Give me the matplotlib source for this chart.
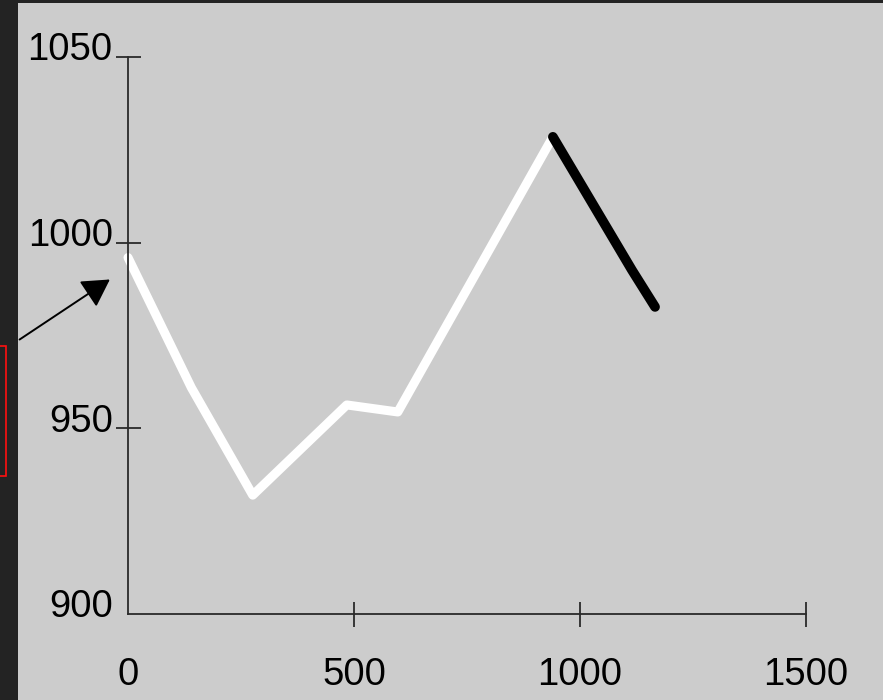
import matplotlib.pyplot as plt
from matplotlib.patches import Rectangle
from matplotlib.transforms import ScaledTranslation

plt.rcParams['font.family'] = ['Liberation Sans', 'DejaVu Sans']

# white segment
white_x = [0, 140, 276, 484, 597, 940]
white_y = [996, 961, 932, 956.3, 954.4, 1028.5]
# black segment
black_x = [940, 1115, 1166]
black_y = [1028.5, 992.6, 982.7]

xticks = [0, 500, 1000, 1500]
yticks = [900, 950, 1000, 1050]

fig = plt.figure(figsize=(8.83, 7), dpi=100)
fig.patch.set_facecolor('#232323')
fig.patches.append(Rectangle((18 / 883, 0), 1, 697 / 700, transform=fig.transFigure,
                             facecolor='#cccccc', edgecolor='none', zorder=0))
fig.patches.append(Rectangle((-2 / 883, 224 / 700), 8 / 883, 130 / 700, transform=fig.transFigure,
                             facecolor='none', edgecolor='#ff1010', lw=1.2, zorder=3))

ax = fig.add_axes([128 / 883, 86 / 700, 678 / 883, 557 / 700])
ax.set_zorder(2)
ax.set_facecolor('none')
ax.plot(white_x, white_y, color='white', lw=6.5, solid_capstyle='round',
        solid_joinstyle='round', clip_on=False)
ax.plot(black_x, black_y, color='black', lw=7, solid_capstyle='round',
        solid_joinstyle='round', clip_on=False)

ax.annotate('', xy=(-35, 990.5), xytext=(-245, 973.5), annotation_clip=False,
            arrowprops=dict(arrowstyle='-|>,head_length=0.42,head_width=0.24',
                            mutation_scale=40, color='black', lw=1.4))

ax.set_xlim(0, 1500)
ax.set_ylim(900, 1050)
ax.set_xticks(xticks)
ax.set_yticks(yticks)
for s in ['top', 'right']:
    ax.spines[s].set_visible(False)
for s in ['left', 'bottom']:
    ax.spines[s].set_color('#2a2a2a')
    ax.spines[s].set_linewidth(1.3)

ax.tick_params(axis='both', direction='inout', length=18, width=1.3, color='#2a2a2a',
               labelsize=27.5, labelcolor='black')
ax.tick_params(axis='x', pad=22)
ax.tick_params(axis='y', pad=2)

ax.xaxis.get_major_ticks()[0].tick1line.set_visible(False)
ax.yaxis.get_major_ticks()[0].tick1line.set_visible(False)

off = ScaledTranslation(0, -2.5 / 72, fig.dpi_scale_trans)
for lab in ax.get_yticklabels():
    lab.set_va('baseline')
    lab.set_transform(lab.get_transform() + off)

fig.savefig('out.png', dpi=100, facecolor=fig.get_facecolor())
